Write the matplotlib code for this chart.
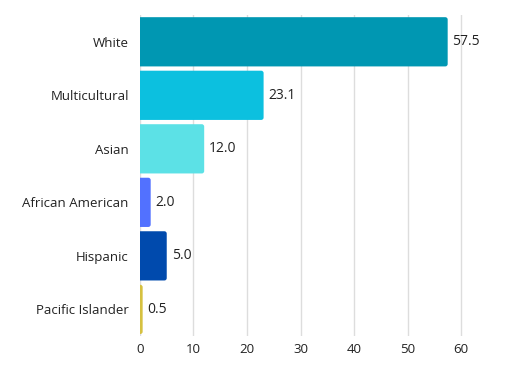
import matplotlib.pyplot as plt
from matplotlib.patches import FancyBboxPatch

# Share of respondents by group
groups = ['White', 'Multicultural', 'Asian', 'African American', 'Hispanic', 'Pacific Islander']
values = [57.5, 23.1, 12.0, 2.0, 5.0, 0.5]
colors = ['#0097b2', '#0cc0df', '#5ce1e6', '#5271ff', '#004aad', '#d6c140']
xticks = [0, 10, 20, 30, 40, 50, 60]

plt.rcParams['font.family'] = ['Open Sans', 'DejaVu Sans']

fig = plt.figure(figsize=(5.12, 3.76), dpi=100)
ax = fig.add_axes([0.2734, 0.106, 0.648, 0.854])

ypos = list(range(len(groups)))
bars = ax.barh(ypos, values, height=0.92, color=colors)

# swap the plain bars for ones with slightly rounded corners
for bar, c in zip(bars, colors):
    bar.set_visible(False)
    x, y = bar.get_x(), bar.get_y()
    w, h = bar.get_width(), bar.get_height()
    patch = FancyBboxPatch((x - 1, y), w + 1, h,
                           boxstyle='round,pad=0,rounding_size=0.45',
                           mutation_aspect=0.1, facecolor=c, edgecolor='none',
                           zorder=3)
    ax.add_patch(patch)

for yv, v in zip(ypos, values):
    ax.annotate(f'{v:.1f}', (v, yv), xytext=(3.5, 0), textcoords='offset points',
                va='center', ha='left', fontsize=10, color='#222222')

ax.set_yticks(ypos)
ax.set_yticklabels(groups)
ax.set_ylim(len(groups) - 0.5, -0.5)
ax.set_xlim(0, 62)
ax.set_xticks(xticks)

ax.grid(axis='x', color='#dddddd', linewidth=1, zorder=0)
ax.set_axisbelow(True)
for s in ax.spines.values():
    s.set_visible(False)
ax.tick_params(axis='both', length=0, labelsize=9.5, colors='#222222')
ax.tick_params(axis='y', pad=8)
ax.tick_params(axis='x', pad=5)

fig.savefig('out.png', dpi=100)
